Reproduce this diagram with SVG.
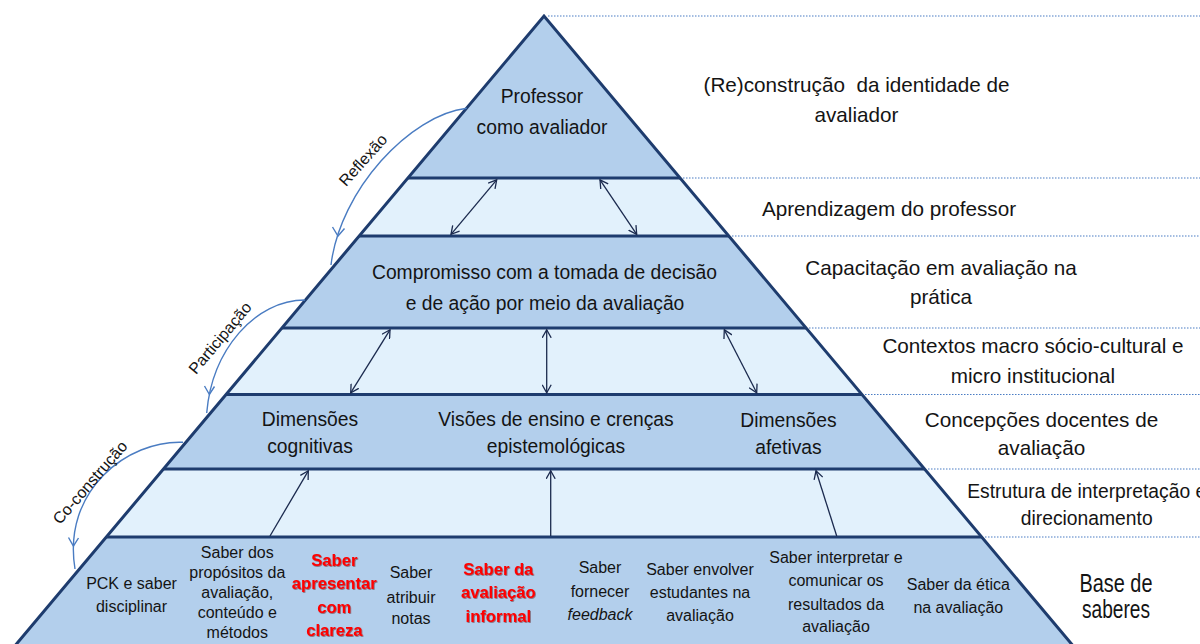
<svg xmlns="http://www.w3.org/2000/svg" width="1200" height="644" viewBox="0 0 1200 644">
<defs>
<marker id="v" viewBox="0 0 10 10" refX="8.5" refY="5" markerWidth="10" markerHeight="10" markerUnits="userSpaceOnUse" orient="auto-start-reverse">
<path d="M0.5,0.5 L8.5,5 L0.5,9.5" fill="none" stroke="#1B2A4E" stroke-width="1.3"/>
</marker>
<filter id="sh" x="-10%" y="-10%" width="130%" height="130%">
<feDropShadow dx="0.8" dy="0.8" stdDeviation="0.6" flood-color="#5a0000" flood-opacity="0.55"/>
</filter>
</defs>
<style>
.mid{fill:#B3CFEC}
.light{fill:#E2F1FC}
.edge{fill:none;stroke:#1E3C6E;stroke-width:3;stroke-linejoin:miter}
.sep{stroke:#1E3C6E;stroke-width:3}
.dot{stroke:#4A7DC4;stroke-width:1.2;stroke-dasharray:1.5 1.5}
text{font-family:"Liberation Sans",Arial,sans-serif;fill:#141414;text-anchor:middle}
.pt{font-size:19.3px}
.rt{font-size:20.7px}
.bt{font-size:16px}
.red{font-size:16.6px;font-weight:bold;fill:#FF0000;filter:url(#sh)}
.arr{stroke:#1B2A4E;stroke-width:1.3;fill:none}
.curve{stroke:#4A7CC2;stroke-width:1.4;fill:none}
.cl{font-size:16px}
</style>
<rect width="1200" height="644" fill="#FFFFFF"/>

<g id="guides">
<line class="dot" x1="548" y1="16" x2="1200" y2="16"/>
<line class="dot" x1="683" y1="178" x2="1200" y2="178"/>
<line class="dot" x1="732" y1="236" x2="1200" y2="236"/>
<line class="dot" x1="809" y1="328" x2="1200" y2="328"/>
<line class="dot" x1="865" y1="394.5" x2="1200" y2="394.5"/>
<line class="dot" x1="928" y1="469" x2="1200" y2="469"/>
<line class="dot" x1="985" y1="537" x2="1200" y2="537"/>
</g>

<g id="level-professor">
<polygon class="mid" points="544,16 680.1,178 407.9,178"/>
<text class="pt" x="542" y="102.7">Professor</text>
<text class="pt" x="542" y="134.3">como avaliador</text>
</g>
<g id="level-aprendizagem">
<polygon class="light" points="407.9,178 680.1,178 728.8,236 359.2,236"/>
</g>
<g id="level-compromisso">
<polygon class="mid" points="359.2,236 728.8,236 806.1,328 281.9,328"/>
<text class="pt" x="544.5" y="279.3">Compromisso com a tomada de decisão</text>
<text class="pt" x="545" y="310">e de ação por meio da avaliação</text>
</g>
<g id="level-contextos">
<polygon class="light" points="281.9,328 806.1,328 861.9,394.5 226.1,394.5"/>
</g>
<g id="level-concepcoes">
<polygon class="mid" points="226.1,394.5 861.9,394.5 924.5,469 163.5,469"/>
<text class="pt" x="310" y="426">Dimensões</text>
<text class="pt" x="310" y="453">cognitivas</text>
<text class="pt" x="556" y="426">Visões de ensino e crenças</text>
<text class="pt" x="556" y="453">epistemológicas</text>
<text class="pt" x="788.5" y="426.5">Dimensões</text>
<text class="pt" x="788.5" y="454">afetivas</text>
</g>
<g id="level-estrutura">
<polygon class="light" points="163.5,469 924.5,469 981.6,537 106.4,537"/>
</g>
<g id="level-base">
<polygon class="mid" points="106.4,537 981.6,537 1085,660 3,660"/>
<text class="bt" x="131.5" y="589.3">PCK e saber</text>
<text class="bt" x="131.5" y="611.7">disciplinar</text>
<text class="bt" x="237.3" y="558">Saber dos</text>
<text class="bt" x="237.3" y="578">propósitos da</text>
<text class="bt" x="237.3" y="598">avaliação,</text>
<text class="bt" x="237.3" y="618">conteúdo e</text>
<text class="bt" x="237.3" y="638">métodos</text>
<text class="red" x="334.3" y="566">Saber</text>
<text class="red" x="334.3" y="589.3">apresentar</text>
<text class="red" x="334.3" y="613">com</text>
<text class="red" x="334.3" y="636">clareza</text>
<text class="bt" x="411" y="578.3">Saber</text>
<text class="bt" x="411" y="602.7">atribuir</text>
<text class="bt" x="411" y="624.3">notas</text>
<text class="red" x="498.3" y="575">Saber da</text>
<text class="red" x="498.3" y="598.3">avaliação</text>
<text class="red" x="498.3" y="622.3">informal</text>
<text class="bt" x="600" y="573.3">Saber</text>
<text class="bt" x="600" y="596.7">fornecer</text>
<text class="bt" x="600" y="620" font-style="italic">feedback</text>
<text class="bt" x="700" y="575">Saber envolver</text>
<text class="bt" x="700" y="598.3">estudantes na</text>
<text class="bt" x="700" y="621">avaliação</text>
<text class="bt" x="836" y="563.3">Saber interpretar e</text>
<text class="bt" x="836" y="586">comunicar os</text>
<text class="bt" x="836" y="610">resultados da</text>
<text class="bt" x="836" y="632">avaliação</text>
<text class="bt" x="958.3" y="590">Saber da ética</text>
<text class="bt" x="958.3" y="612.7">na avaliação</text>
</g>

<g id="outline">
<line class="sep" x1="407.9" y1="178" x2="680.1" y2="178"/>
<line class="sep" x1="359.2" y1="236" x2="728.8" y2="236"/>
<line class="sep" x1="281.9" y1="328" x2="806.1" y2="328"/>
<line class="sep" x1="226.1" y1="394.5" x2="861.9" y2="394.5"/>
<line class="sep" x1="163.5" y1="469" x2="924.5" y2="469"/>
<line class="sep" x1="106.4" y1="537" x2="981.6" y2="537"/>
<path class="edge" d="M3,660 L544,16 L1085,660"/>
</g>

<g id="connectors">
<line class="arr" x1="496.7" y1="179.8" x2="451" y2="234.3" marker-start="url(#v)" marker-end="url(#v)"/>
<line class="arr" x1="600" y1="179.8" x2="636.7" y2="234.3" marker-start="url(#v)" marker-end="url(#v)"/>
<line class="arr" x1="390" y1="329.8" x2="350.7" y2="392.8" marker-start="url(#v)" marker-end="url(#v)"/>
<line class="arr" x1="546.7" y1="329.8" x2="546.7" y2="392.8" marker-start="url(#v)" marker-end="url(#v)"/>
<line class="arr" x1="724.3" y1="329.8" x2="756.7" y2="392.8" marker-start="url(#v)" marker-end="url(#v)"/>
<line class="arr" x1="270" y1="536" x2="308.3" y2="470.8" marker-end="url(#v)"/>
<line class="arr" x1="550.7" y1="536" x2="550.7" y2="470.8" marker-end="url(#v)"/>
<line class="arr" x1="836.7" y1="536" x2="816" y2="470.8" marker-end="url(#v)"/>
<path class="curve" d="M466.7,108.3 C410,115 340,190 331,265"/>
<path class="curve" d="M332.5,227 L338,236 L344.5,228.5"/>
<path class="curve" d="M305,300 C255,300 212,350 206.7,413"/>
<path class="curve" d="M204.5,386 L209.4,394.5 L214.5,386.5"/>
<path class="curve" d="M183,442.3 C128,440 62,490 75,569"/>
<path class="curve" d="M68.5,537.5 L73.4,546.2 L78.5,538"/>
</g>

<g id="process-labels">
<text class="cl" transform="translate(363,160) rotate(-48)" y="5.5">Reflexão</text>
<text class="cl" transform="translate(220,338) rotate(-50)" y="5.5">Participação</text>
<text class="cl" transform="translate(90,482.5) rotate(-49)" y="5.5">Co-construção</text>
</g>

<g id="level-labels">
<text class="rt" x="856.5" y="91.7" xml:space="preserve">(Re)construção  da identidade de</text>
<text class="rt" x="856.5" y="121.7">avaliador</text>
<text class="rt" x="889" y="216">Aprendizagem do professor</text>
<text class="rt" x="941" y="275">Capacitação em avaliação na</text>
<text class="rt" x="941" y="303.5">prática</text>
<text class="rt" x="1033" y="353.3">Contextos macro sócio-cultural e</text>
<text class="rt" x="1033" y="382.7">micro institucional</text>
<text class="rt" x="1041.5" y="426.7">Concepções docentes de</text>
<text class="rt" x="1041.5" y="455">avaliação</text>
<text x="1086.7" y="498.3" font-size="19.3">Estrutura de interpretação e</text>
<text x="1086.7" y="525" font-size="19.3">direcionamento</text>
<text x="1116" y="591.7" font-size="25.5" textLength="73" lengthAdjust="spacingAndGlyphs">Base de</text>
<text x="1116" y="618.3" font-size="25.5" textLength="68" lengthAdjust="spacingAndGlyphs">saberes</text>
</g>
</svg>
